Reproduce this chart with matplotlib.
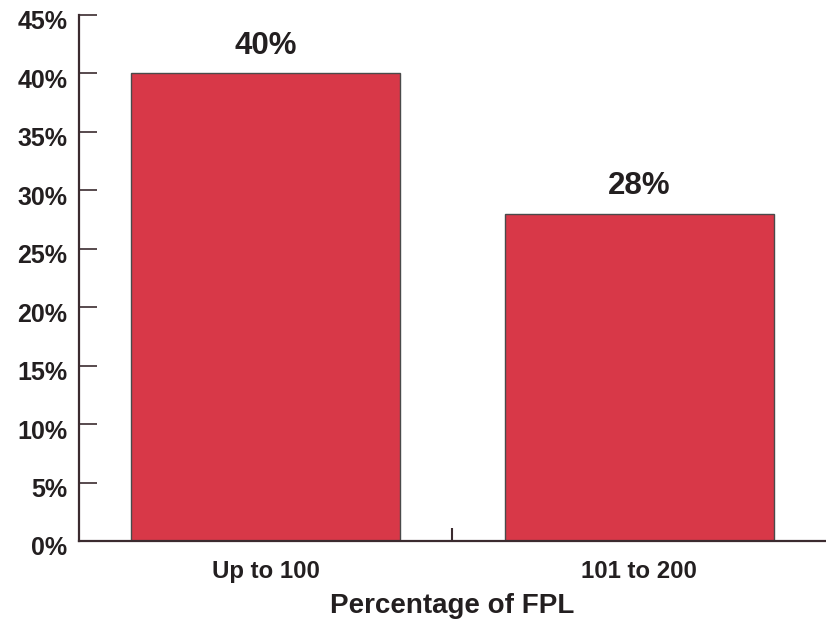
import matplotlib
matplotlib.use("Agg")
import matplotlib.pyplot as plt
from matplotlib.transforms import ScaledTranslation
from matplotlib.ticker import FixedLocator

categories = ["Up to 100", "101 to 200"]
values = [40, 28]
y_ticks = [0, 5, 10, 15, 20, 25, 30, 35, 40, 45]
x_label = "Percentage of FPL"

plt.rcParams['font.family'] = ['Liberation Sans', 'DejaVu Sans']
plt.rcParams['font.weight'] = 'bold'

bar_color = '#D83848'
axis_color = '#3b2b2f'
text_color = '#231f20'

fig = plt.figure(figsize=(8.26, 6.34), dpi=100)
ax = fig.add_axes([0.0956, 0.1467, 0.9044, 0.8297])

x = list(range(len(categories)))
ax.bar(x, values, width=0.72, color=bar_color, edgecolor='#4a4a4a', linewidth=1.0, zorder=2)

for xi, v in zip(x, values):
    ax.annotate(f"{v}%", (xi, v), xytext=(0, 9), textcoords='offset points',
                ha='center', va='bottom', fontsize=22.5, fontweight='bold', color=text_color)

ax.set_xlim(-0.5, 1.5)
ax.set_ylim(0, 45)

ax.set_yticks(y_ticks)
ax.set_yticklabels([f"{t}%" for t in y_ticks])
ax.tick_params(axis='y', direction='in', length=13, width=1.2, color=axis_color,
               labelsize=18, labelcolor=text_color, pad=8.5)
for lbl in ax.get_yticklabels():
    lbl.set_fontweight('bold')
    lbl.set_transform(lbl.get_transform() + ScaledTranslation(0, -5 / 100, fig.dpi_scale_trans))

ax.set_xticks(x)
ax.set_xticklabels(categories)
ax.tick_params(axis='x', which='major', length=0, labelsize=17.3, labelcolor=text_color, pad=14)
for lbl in ax.get_xticklabels():
    lbl.set_fontweight('bold')
ax.xaxis.set_minor_locator(FixedLocator([0.5]))
ax.tick_params(axis='x', which='minor', direction='in', length=9.5, width=1.5, color=axis_color)

ax.set_xlabel(x_label, fontsize=20, fontweight='bold', color=text_color, va='center')
ax.xaxis.set_label_coords(0.5, -65 / 526)

for side in ['top', 'right']:
    ax.spines[side].set_visible(False)
for side in ['left', 'bottom']:
    ax.spines[side].set_color(axis_color)
    ax.spines[side].set_linewidth(1.6)

fig.savefig('out.png', dpi=100)
